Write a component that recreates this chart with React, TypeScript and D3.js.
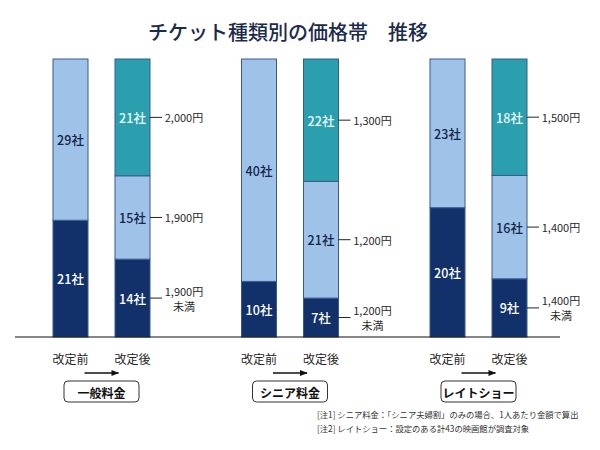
import React from "react";
import * as d3 from "d3";

const groups = ["一般料金", "シニア料金", "レイトショー"];
const phases = ["改定前", "改定後"];
const beforeValues = [
  [21, 29],
  [10, 40],
  [20, 23],
];
const afterValues = [
  [14, 15, 21],
  [7, 21, 22],
  [9, 16, 18],
];
const priceLabels = [
  [["1,900円", "未満"], ["1,900円"], ["2,000円"]],
  [["1,200円", "未満"], ["1,200円"], ["1,300円"]],
  [["1,400円", "未満"], ["1,400円"], ["1,500円"]],
];
const title = "チケット種類別の価格帯　推移";
const notes = [
  "[注1] シニア料金：「シニア夫婦割」のみの場合、1人あたり金額で算出",
  "[注2] レイトショー：設定のある計43の映画館が調査対象",
];

const W = 600;
const H = 450;
const FONT = '"Noto Sans CJK JP", "Noto Sans", sans-serif';
const segColors = ["#12316a", "#9fc3e8", "#2b9fae"];
const segText = ["#ffffff", "#15264a", "#e8fbfb"];

export default function App() {
  const top = 59;
  const base = 337;
  const xGroup = d3
    .scaleBand<string>()
    .domain(groups)
    .range([53, 527])
    .paddingInner(1 - 97 / 188.5)
    .paddingOuter(0);
  const xPhase = d3
    .scaleBand<string>()
    .domain(phases)
    .range([0, xGroup.bandwidth()])
    .paddingInner(1 - 35 / 62)
    .paddingOuter(0);
  const bw = xPhase.bandwidth();

  const bars: React.ReactNode[] = [];
  groups.forEach((g, gi) => {
    [beforeValues[gi], afterValues[gi]].forEach((vals, pi) => {
      const total = d3.sum(vals);
      const y = d3.scaleLinear().domain([0, total]).range([base, top]);
      const x0 = (xGroup(g) ?? 0) + (xPhase(phases[pi]) ?? 0);
      let cum = 0;
      vals.forEach((v, si) => {
        const y0 = y(cum);
        const y1 = y(cum + v);
        cum += v;
        const cy = (y0 + y1) / 2;
        bars.push(
          <g key={`${gi}-${pi}-${si}`}>
            <rect
              x={x0}
              y={y1}
              width={bw}
              height={y0 - y1}
              fill={segColors[si]}
              stroke="#3a5a8c"
              strokeWidth={1}
            />
            <text
              x={x0 + bw / 2}
              y={cy}
              textAnchor="middle"
              dominantBaseline="central"
              fontSize={12.5}
              fontWeight={500}
              fill={segText[si]}
            >
              {v}社
            </text>
          </g>
        );
        if (pi === 1) {
          const lines = priceLabels[gi][si];
          const lx = x0 + bw;
          bars.push(
            <g key={`p-${gi}-${si}`}>
              <line x1={lx} x2={lx + 12} y1={cy} y2={cy} stroke="#222" strokeWidth={1} />
              {lines.map((t, li) => (
                <text
                  key={li}
                  x={lx + 34}
                  y={lines.length === 1 ? cy : cy - 7.5 + li * 15}
                  textAnchor="middle"
                  dominantBaseline="central"
                  fontSize={11}
                  fill="#2a2a2a"
                >
                  {t}
                </text>
              ))}
            </g>
          );
        }
      });
    });
  });

  return (
    <svg
      width={W}
      height={H}
      style={{ position: "absolute", left: 0, top: 0, display: "block", background: "#fff" }}
      fontFamily={FONT}
    >
      <rect x={0} y={0} width={W} height={H} fill="#fff" />
      <defs>
        <marker id="ah" viewBox="0 0 10 10" refX={9} refY={5} markerWidth={6} markerHeight={6} orient="auto">
          <path d="M0,1 L10,5 L0,9 Z" fill="#111" />
        </marker>
      </defs>
      <text
        x={288}
        y={31}
        textAnchor="middle"
        dominantBaseline="central"
        fontSize={20}
        fontWeight={500}
        fill="#1b2b4b"
      >
        {title}
      </text>
      {bars}
      <line x1={15} x2={560} y1={base} y2={base} stroke="#111" strokeWidth={1.2} />
      {groups.map((g, gi) => {
        const gx = xGroup(g) ?? 0;
        const cx = gx + xGroup.bandwidth() / 2;
        return (
          <g key={`b-${gi}`}>
            {phases.map((p) => (
              <text
                key={p}
                x={gx + (xPhase(p) ?? 0) + bw / 2}
                y={358}
                textAnchor="middle"
                dominantBaseline="central"
                fontSize={12}
                fill="#222"
              >
                {p}
              </text>
            ))}
            <line x1={cx - 17} x2={cx + 17} y1={373} y2={373} stroke="#111" strokeWidth={1.3} markerEnd="url(#ah)" />
            <rect x={cx - 37.5} y={381} width={75} height={21} rx={4} fill="#fff" stroke="#333" strokeWidth={1} />
            <text
              x={cx}
              y={392}
              textAnchor="middle"
              dominantBaseline="central"
              fontSize={12}
              fontWeight="bold"
              fill="#111"
            >
              {g}
            </text>
          </g>
        );
      })}
      {notes.map((n, i) => (
        <text key={i} x={317} y={414 + i * 13.5} dominantBaseline="central" fontSize={8.3} fill="#333">
          {n}
        </text>
      ))}
    </svg>
  );
}
